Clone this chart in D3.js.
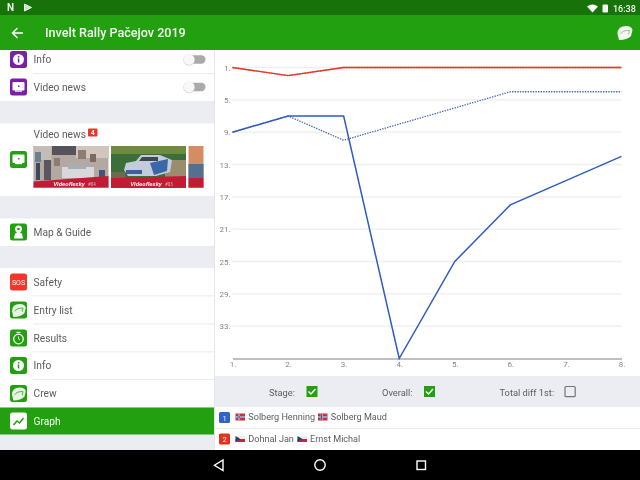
<!DOCTYPE html>
<html>
<head>
<meta charset="utf-8">
<style>
html, body { margin: 0; padding: 0; background: #fff; overflow: hidden; }
text { font-family: Roboto, sans-serif; }
</style>
<script src="https://cdnjs.cloudflare.com/ajax/libs/d3/7.8.5/d3.min.js"></script>
</head>
<body>
<div id="graph"></div>
<script>
const stages = [1, 2, 3, 4, 5, 6, 7, 8];
const yTicks = [1, 5, 9, 13, 17, 21, 25, 29, 33];
const blueStage = [9, 7, 7, 37, 25, 18, 15, 12];
const blueOverall = [9, 7, 10, 8, 6, 4, 4, 4];
const redStage = [1, 2, 1, 1, 1, 1, 1, 1];
const redOverall = [1, 2, 1, 1, 1, 1, 1, 1];

const menuTop = ["Info", "Video news"];
const menuBottom = ["Safety", "Entry list", "Results", "Info", "Crew"];

const width = 640, height = 480;
const green = "#22a00f", paper = "#ecedf3", grey = "#5c5c5c";

const svg = d3.select("#graph").append("svg")
  .attr("width", width)
  .attr("height", height)
  .style("display", "block")
  .style("opacity", 0.999);

svg.append("defs").append("filter").attr("id", "soft")
  .append("feGaussianBlur").attr("stdDeviation", 0.7);

const rect = (x, y, w, h, fill, r) => svg.append("rect")
  .attr("x", x).attr("y", y).attr("width", w).attr("height", h)
  .attr("rx", r || 0).attr("fill", fill);

const label = (x, y, s, size, fill, anchor) => svg.append("text")
  .attr("x", x).attr("y", y).attr("font-size", size).attr("fill", fill)
  .attr("text-anchor", anchor || "start").text(s);

// page background
rect(0, 0, width, height, "#fff");

// left menu
rect(0, 50, 214, 400, paper);
rect(0, 50, 214, 51, "#fff");
rect(0, 123.5, 214, 72.5, "#fff");
rect(0, 218.500, 214, 27.5, "#fff");
rect(0, 268, 214, 139.5, "#fff");
rect(214, 50, 1, 400, "#e4e4e8");

function icon(y, color) {
  return rect(10, y - 8.5, 17, 17, color, 2.5);
}

function infoGlyph(y, color) {
  svg.append("circle").attr("cx", 18.5).attr("cy", y).attr("r", 5.5).attr("fill", "#fff");
  rect(17.8, y - 1, 1.5, 4, color);
  rect(17.8, y - 3.4, 1.5, 1.5, color);
}

function screenGlyph(y, color) {
  rect(12.5, y - 5, 12, 8.5, "#fff", 1);
  rect(15, y + 3.5, 7, 1.2, "#fff");
  rect(18, y - 1.5, 1.5, 1.5, color);
}

// helmet, drawn in a 15x14 box
function helmet(hx, hy, s, fill, visor) {
  const g = svg.append("g").attr("transform", `translate(${hx},${hy}) scale(${s})`);
  g.append("path")
    .attr("d", "M1.500 14L0 8Q0 0 8.500 0Q14 0 15 4L13.500 10Q10 14 1.500 14z")
    .attr("fill", fill);
  g.append("path")
    .attr("d", "M3 8Q5 4 12 4.500L11 8.500")
    .attr("fill", "none").attr("stroke", visor).attr("stroke-width", 0.8);
}

function toggle(y) {
  rect(186, y - 4.2, 19.5, 8.4, "#aaaaaa", 4.2);
  svg.append("circle").attr("cx", 189).attr("cy", y + 0.4).attr("r", 5.8).attr("fill", "#d6d6d6");
  svg.append("circle").attr("cx", 189).attr("cy", y).attr("r", 5.4).attr("fill", "#f8f8f8");
}

const topRows = [59.500, 87];
menuTop.forEach((s, i) => {
  icon(topRows[i], "#7d1ea6");
  if (i == 0) infoGlyph(topRows[i], "#7d1ea6");
  else screenGlyph(topRows[i], "#7d1ea6");
  label(33.5, topRows[i] + 3.5, s, 10.2, grey);
  toggle(topRows[i]);
});
rect(33, 73, 181, 0.8, "#e8e8ec");

// video news block
icon(159.5, green);
screenGlyph(159.5, green);
label(33.5, 138, "Video news", 10.2, grey);
rect(88, 128.5, 9.5, 8, "#f0322a", 1);
label(92.7, 135.3, "4", 7, "#fff", "middle").attr("font-weight", 700);

// thumbnails, rough stand-ins for the photos
const thumb1 = svg.append("g").attr("filter", "url(#soft)");
const t1 = (x, y, w, h, c) => thumb1.append("rect").attr("x", x).attr("y", y).attr("width", w).attr("height", h).attr("fill", c);
t1(33.5, 146, 75, 42, "#b3a8a2");
t1(33.5, 146, 18, 14, "#c4bcb6");
t1(52, 146, 24, 9, "#56525a");
t1(76, 146, 33, 12, "#cfc6be");
t1(35, 152, 6, 10, "#6e7e94");
t1(36, 163, 4, 17, "#3f4a5c");
t1(44, 160, 7, 20, "#5a5660");
t1(54, 158, 6, 8, "#8c7c72");
t1(78, 150, 8, 9, "#8e7d72");
t1(90, 154, 6, 8, "#7a6a62");
t1(99, 170, 6, 10, "#44527a");
t1(62, 167, 32, 11, "#d8d8dc");
t1(68, 163, 18, 6, "#a9aeb4");
thumb1.append("path").attr("d", "M33.500 181.500L108.500 176V187.500H33.500z").attr("fill", "#c21f34");
label(69, 185.5, "Videoflesky", 6.2, "#fbe9ea", "middle").attr("font-weight", 700).attr("font-style", "italic");
label(88, 185.5, "#04", 4.5, "#eaaab2");

const thumb2 = svg.append("g").attr("filter", "url(#soft)");
const t2 = (x, y, w, h, c) => thumb2.append("rect").attr("x", x).attr("y", y).attr("width", w).attr("height", h).attr("fill", c);
t2(111, 146, 75, 42, "#3a6e38");
t2(111, 146, 75, 8, "#6d8a3c");
t2(165, 160, 21, 17, "#9a8d6e");
t2(111, 172, 14, 6, "#6e6a50");
thumb2.append("path").attr("d", "M124 170L126 163L136 161L141 155L160 155L172 160L170 172L156 176L128 176z").attr("fill", "#c3ccda");
thumb2.append("path").attr("d", "M150 163L168 159L167 171L154 175z").attr("fill", "#3a66a8");
thumb2.append("path").attr("d", "M142 157L158 157L158 161L139 161z").attr("fill", "#3c4654");
t2(126, 170, 16, 4, "#3c5ea0");
thumb2.append("path").attr("d", "M111 178L186 176V187.500H111z").attr("fill", "#c21f34");
label(146, 185.5, "Videoflesky", 6.2, "#fbe9ea", "middle").attr("font-weight", 700).attr("font-style", "italic");
label(165, 185.5, "#03", 4.5, "#eaaab2");

const thumb3 = svg.append("g").attr("filter", "url(#soft)");
const t3 = (x, y, w, h, c) => thumb3.append("rect").attr("x", x).attr("y", y).attr("width", w).attr("height", h).attr("fill", c);
t3(188.5, 146, 15, 42, "#d48c64");
t3(188.5, 164, 15, 14, "#55708e");
t3(188.5, 178, 15, 9.5, "#c21f34");

// map row
icon(232, green);
svg.append("path")
  .attr("d", "M18.500 225.500a3.500 3.500 0 0 1 3.500 3.500q0 2-2 4l2 .5 1 5h-9l1-5 2-.5q-2-2-2-4a3.500 3.500 0 0 1 3.500-3.500z")
  .attr("fill", "#fff");
svg.append("circle").attr("cx", 18.5).attr("cy", 229).attr("r", 1.3).attr("fill", green);
label(33.5, 236, "Map & Guide", 10.2, grey);

// lower menu
const bottomRows = [282, 310, 338, 365.5, 393.500];
menuBottom.forEach((s, i) => {
  const y = bottomRows[i];
  icon(y, i == 0 ? "#f5352b" : green);
  if (s == "Entry list" || s == "Crew") helmet(12, y - 6, 0.92, "#e8f4e4", green);
  if (s == "Info") infoGlyph(y, green);
  label(33.5, y + 3.5, s, 10.2, grey);
  if (i < menuBottom.length - 1) rect(33, y + 13.5, 181, 0.8, "#e8e8ec");
});
label(18.5, 285, "SOS", 7, "#fff", "middle");
svg.append("circle").attr("cx", 18.5).attr("cy", 339).attr("r", 4.8)
  .attr("fill", "none").attr("stroke", "#fff").attr("stroke-width", 1.3);
rect(16.5, 331.8, 4, 1.2, "#fff");
svg.append("path").attr("d", "M18.500 336.500v2.500l1.500 1")
  .attr("fill", "none").attr("stroke", "#fff").attr("stroke-width", 0.9);

// selected row
rect(0, 407.5, 214, 27, green);
rect(10, 412.5, 17, 17, "#fff", 2.5);
svg.append("path").attr("d", "M13.500 425l3.500-4 2.500 2 4-5")
  .attr("fill", "none").attr("stroke", green).attr("stroke-width", 1.5);
label(33.5, 425, "Graph", 10.2, "#fff");

// chart
const x = d3.scalePoint().domain(stages).range([232.5, 621.5]);
const y = d3.scaleLinear().domain([1, 37]).range([67.5, 358.5]);

const grid = svg.append("g");
grid.selectAll("line").data(yTicks).enter().append("line")
  .attr("x1", x(1)).attr("x2", x(8))
  .attr("y1", d => y(d)).attr("y2", d => y(d))
  .attr("stroke", "#eeeef2").attr("stroke-width", 1.3);

const yAxis = d3.axisLeft(y).tickValues(yTicks).tickSize(0).tickPadding(2).tickFormat(d => d + ".");
const xAxis = d3.axisBottom(x).tickSize(0).tickPadding(3).tickFormat(d => d + ".");

const gy = svg.append("g").attr("transform", `translate(${x(1)},0)`).call(yAxis);
gy.select(".domain").remove();
gy.selectAll("text").attr("font-size", 8).attr("fill", "#858585").attr("font-family", "Roboto, sans-serif");

const gx = svg.append("g").attr("transform", `translate(0,${y(37)})`).call(xAxis);
gx.select(".domain").attr("stroke", "#808080").attr("stroke-width", 1);
gx.selectAll("text").attr("font-size", 8).attr("fill", "#858585").attr("font-family", "Roboto, sans-serif");

const line = d3.line().x((d, i) => x(stages[i])).y(d => y(d));

const series = [
  { values: redOverall, color: "#e9604e", dash: "1.4 1.2", w: 1.4 },
  { values: redStage, color: "#e0392a", dash: null, w: 1.4 },
  { values: blueOverall, color: "#4a68b8", dash: "1.4 1.2", w: 1.3 },
  { values: blueStage, color: "#2f5cc0", dash: null, w: 1.5 }
];
svg.selectAll(".series").data(series).enter().append("path")
  .attr("class", "series")
  .attr("d", d => line(d.values))
  .attr("fill", "none")
  .attr("stroke", d => d.color)
  .attr("stroke-width", d => d.w)
  .attr("stroke-dasharray", d => d.dash);

// filter bar
rect(215, 376, 425, 31, paper);
label(269, 395.5, "Stage:", 9.3, grey);
label(382, 395.5, "Overall:", 9.3, grey);
label(499.5, 395.5, "Total diff 1st:", 9.3, grey);

function checkBox(bx, on) {
  if (on) {
    rect(bx, 386, 11, 11, green);
    svg.append("path").attr("d", `M${bx + 2} ${391.5}l2.500 2.500 4.500-5`)
      .attr("fill", "none").attr("stroke", "#fff").attr("stroke-width", 1.5);
  } else {
    svg.append("rect").attr("x", bx + 0.5).attr("y", 386.5).attr("width", 10.2).attr("height", 10.2)
      .attr("rx", 1).attr("fill", "none").attr("stroke", "#757575").attr("stroke-width", 1.2);
  }
}
checkBox(306.5, true);
checkBox(424, true);
checkBox(564.5, false);

// legend rows
rect(215, 407, 425, 43, "#fff");
rect(215, 428, 425, 0.8, "#e6e6ea");
rect(219, 412, 11, 11, "#2f62cc", 1.5);
label(224.5, 420.5, "1", 7.5, "#e6edfb", "middle");
rect(219, 433.5, 11, 11, "#e0321c", 1.5);
label(224.5, 441.8, "2", 7.5, "#fde6e2", "middle");

function flagNo(fx, fy) {
  rect(fx, fy, 9.5, 7, "#d8283a");
  rect(fx + 2.8, fy, 1.6, 7, "#fff");
  rect(fx, fy + 2.7, 9.5, 1.6, "#fff");
  rect(fx + 3.2, fy, 0.8, 7, "#28457f");
  rect(fx, fy + 3.1, 9.5, 0.8, "#28457f");
}
function flagCz(fx, fy) {
  rect(fx, fy, 9.5, 3, "#eeeef0");
  rect(fx, fy + 3, 9.5, 3, "#d0203a");
  svg.append("path").attr("d", `M${fx} ${fy}l5 3-5 3z`).attr("fill", "#1f3f86");
}
flagNo(235.5, 413.5);
label(248.3, 420, "Solberg Henning", 9.1, grey);
flagNo(318, 413.5);
label(330.8, 420, "Solberg Maud", 9.1, grey);
flagCz(235.5, 436);
label(248.3, 441.5, "Dohnal Jan", 9.1, grey);
flagCz(297.5, 436);
label(310, 441.5, "Ernst Michal", 9.1, grey);

// app bar
rect(0, 15, width, 35, green);
rect(0, 0, width, 15, "#17720a");
label(45, 37, "Invelt Rally Pačejov 2019", 12.6, "#f4fbf2").attr("font-weight", 500);
svg.append("path").attr("d", "M23 33H13M17.500 28l-5 5 5 5")
  .attr("fill", "none").attr("stroke", "#fff").attr("stroke-width", 1.5);
helmet(617.5, 26, 1, "#f2f7ef", "#7fb872");

// status bar
label(7, 11.2, "N", 10, "#e8f3e5").attr("font-weight", 700);
svg.append("path").attr("d", "M24.500 4l7 3.500-7 3.500z").attr("fill", "#cfe3c8")
  .attr("stroke", "#e8f3e5").attr("stroke-width", 1);
svg.append("path").attr("d", "M587 6.500q5.500-4 11 0l-5.500 6z").attr("fill", "#fff");
rect(602.5, 4.5, 5.5, 8, "#f2f7ef", 1);
label(613, 12, "16:38", 9, "#f2f7ef").attr("font-weight", 500);

// navigation bar
rect(0, 450, width, 30, "#000");
svg.append("path").attr("d", "M223 460v10.500l-8.500-5.250z")
  .attr("fill", "none").attr("stroke", "#fff").attr("stroke-width", 1.4);
svg.append("circle").attr("cx", 320).attr("cy", 465).attr("r", 5.2)
  .attr("fill", "none").attr("stroke", "#fff").attr("stroke-width", 1.4);
svg.append("rect").attr("x", 417).attr("y", 461).attr("width", 8.5).attr("height", 8.5)
  .attr("fill", "none").attr("stroke", "#fff").attr("stroke-width", 1.4);
</script>
</body>
</html>
